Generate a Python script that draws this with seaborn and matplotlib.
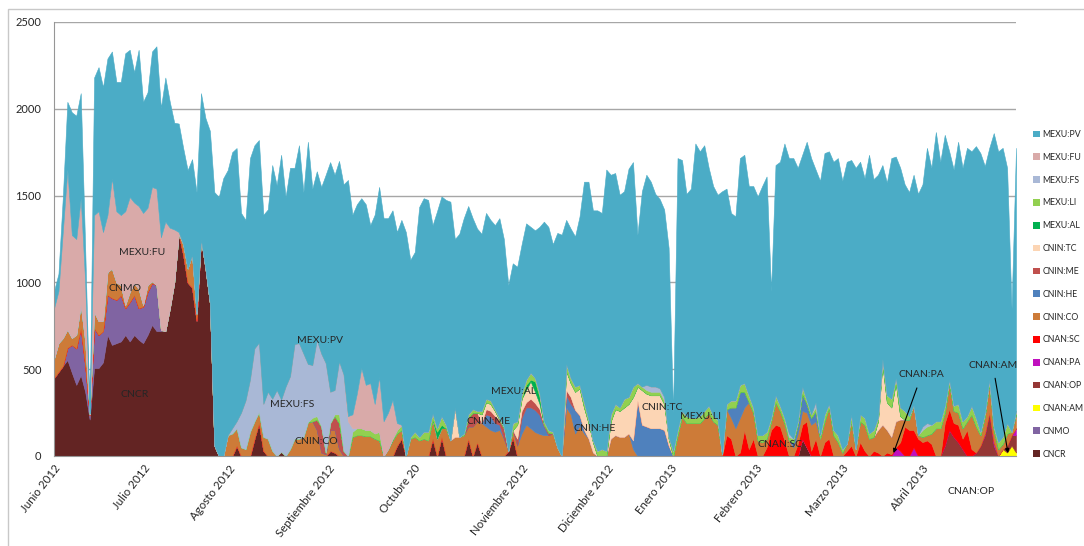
import matplotlib
matplotlib.use("Agg")
import matplotlib.pyplot as plt
import seaborn as sns
import numpy as np
from matplotlib.patches import Patch, Rectangle

# daily values (Junio 2012 -> mayo 2013), stacked bottom -> top
cncr = [450, 485, 520, 553, 480, 410, 466, 370, 210, 507, 507, 540, 697, 640, 650, 660, 697, 660, 697, 670,
        650, 697, 755, 720, 720, 720, 850, 1000, 1280, 1160, 1000, 970, 780, 1250, 1080, 880, 60, 0, 0, 0,
        0, 60, 0, 0, 0, 100, 190, 30, 0, 0, 0, 25, 0, 0, 0, 0, 0, 0, 0, 0,
        0, 0, 30, 20, 0, 0, 0, 0, 0, 0, 0, 0, 0, 0, 0, 0, 0, 60, 100, 0,
        0, 0, 0, 0, 0, 100, 0, 110, 0, 0, 0, 0, 0, 100, 0, 80, 0, 0, 0, 0,
        0, 0, 30, 110, 0, 0, 0, 0, 0, 0, 0, 0, 0, 0, 0, 0, 0, 0, 0, 0,
        0, 0, 0, 0, 0, 0, 0, 0, 0, 0, 0, 0, 0, 0, 0, 0, 0, 0, 0, 0,
        0, 0, 0, 0, 0, 0, 0, 0, 0, 0, 0, 0, 0, 0, 0, 0, 0, 0, 0, 0,
        0, 0, 0, 0, 0, 0, 0, 0, 100, 50, 0, 0, 0, 0, 0, 0, 0, 0, 0, 0,
        0, 0, 0, 0, 0, 0, 0, 0, 0, 0, 0, 0, 0, 0, 0, 0, 0, 0, 0, 0,
        0, 0, 0, 0, 0, 0, 0, 0, 0, 0, 0, 0, 0, 0, 0, 0, 0]
cnmo = [0, 0, 0, 70, 160, 210, 270, 150, 25, 230, 190, 180, 230, 270, 250, 267, 155, 227, 230, 182,
        210, 248, 242, 265, 6, 0, 0, 0, 0, 0, 0, 0, 0, 0, 0, 0, 0, 0, 0, 0,
        0, 0, 0, 0, 0, 0, 0, 0, 0, 0, 0, 0, 0, 0, 0, 0, 0, 0, 0, 0,
        0, 0, 0, 0, 0, 0, 0, 0, 0, 0, 0, 0, 0, 0, 0, 0, 0, 0, 0, 0,
        0, 0, 0, 0, 0, 0, 0, 0, 0, 0, 0, 0, 0, 0, 0, 0, 0, 0, 0, 0,
        0, 0, 0, 0, 0, 0, 0, 0, 0, 0, 0, 0, 0, 0, 0, 0, 0, 0, 0, 0,
        0, 0, 0, 0, 0, 0, 0, 0, 0, 0, 0, 0, 0, 0, 0, 0, 0, 0, 0, 0,
        0, 0, 0, 0, 0, 0, 0, 0, 0, 0, 0, 0, 0, 0, 0, 0, 0, 0, 0, 0,
        0, 0, 0, 0, 0, 0, 0, 0, 0, 0, 0, 0, 0, 0, 0, 0, 0, 0, 0, 0,
        0, 0, 0, 0, 0, 0, 0, 0, 0, 0, 0, 0, 0, 0, 0, 0, 0, 0, 0, 0,
        0, 0, 0, 0, 0, 0, 0, 0, 0, 0, 0, 0, 0, 0, 0, 0, 0]
cnan_am = [0, 0, 0, 0, 0, 0, 0, 0, 0, 0, 0, 0, 0, 0, 0, 0, 0, 0, 0, 0,
           0, 0, 0, 0, 0, 0, 0, 0, 0, 0, 0, 0, 0, 0, 0, 0, 0, 0, 0, 0,
           0, 0, 0, 0, 0, 0, 0, 0, 0, 0, 0, 0, 0, 0, 0, 0, 0, 0, 0, 0,
           0, 0, 0, 0, 0, 0, 0, 0, 0, 0, 0, 0, 0, 0, 0, 0, 0, 0, 0, 0,
           0, 0, 0, 0, 0, 0, 0, 0, 0, 0, 0, 0, 0, 0, 0, 0, 0, 0, 0, 0,
           0, 0, 0, 0, 0, 0, 0, 0, 0, 0, 0, 0, 0, 0, 0, 0, 0, 0, 0, 0,
           0, 0, 0, 0, 0, 0, 0, 0, 0, 0, 0, 0, 0, 0, 0, 0, 0, 0, 0, 0,
           0, 0, 0, 0, 0, 0, 0, 0, 0, 0, 0, 0, 0, 0, 0, 0, 0, 0, 0, 0,
           0, 0, 0, 0, 0, 0, 0, 0, 0, 0, 0, 0, 0, 0, 0, 0, 0, 0, 0, 0,
           0, 0, 0, 0, 0, 0, 0, 0, 0, 0, 0, 0, 0, 0, 0, 0, 0, 0, 0, 0,
           0, 0, 0, 0, 0, 0, 0, 0, 0, 0, 0, 0, 0, 40, 20, 60, 20]
cnan_op = [0, 0, 0, 0, 0, 0, 0, 0, 0, 0, 0, 0, 0, 0, 0, 0, 0, 0, 0, 0,
           0, 0, 0, 0, 0, 0, 0, 0, 0, 0, 0, 0, 0, 0, 0, 0, 0, 0, 0, 0,
           0, 0, 0, 0, 0, 0, 0, 0, 0, 0, 0, 0, 0, 0, 0, 0, 0, 0, 0, 0,
           0, 0, 0, 0, 0, 0, 0, 0, 0, 0, 0, 0, 0, 0, 0, 0, 0, 0, 0, 0,
           0, 0, 0, 0, 0, 0, 0, 0, 0, 0, 0, 0, 0, 0, 0, 0, 0, 0, 0, 0,
           0, 0, 0, 0, 0, 0, 0, 0, 0, 0, 0, 0, 0, 0, 0, 0, 0, 0, 0, 0,
           0, 0, 0, 0, 0, 0, 0, 0, 0, 0, 0, 0, 0, 0, 0, 0, 0, 0, 0, 0,
           0, 0, 0, 0, 0, 0, 0, 0, 0, 0, 0, 0, 0, 0, 0, 0, 0, 0, 0, 0,
           0, 0, 0, 0, 0, 0, 0, 0, 0, 0, 0, 0, 0, 0, 0, 0, 0, 0, 0, 0,
           0, 0, 0, 0, 0, 0, 0, 0, 0, 0, 0, 0, 0, 0, 0, 0, 0, 0, 0, 0,
           60, 150, 110, 80, 40, 0, 0, 20, 60, 120, 250, 60, 0, 0, 40, 60, 100]
cnan_pa = [0, 0, 0, 0, 0, 0, 0, 0, 0, 0, 0, 0, 0, 0, 0, 0, 0, 0, 0, 0,
           0, 0, 0, 0, 0, 0, 0, 0, 0, 0, 0, 0, 0, 0, 0, 0, 0, 0, 0, 0,
           0, 0, 0, 0, 0, 0, 0, 0, 0, 0, 0, 0, 0, 0, 0, 0, 0, 0, 0, 0,
           0, 0, 0, 0, 0, 0, 0, 0, 0, 0, 0, 0, 0, 0, 0, 0, 0, 0, 0, 0,
           0, 0, 0, 0, 0, 0, 0, 0, 0, 0, 0, 0, 0, 0, 0, 0, 0, 0, 0, 0,
           0, 0, 0, 0, 0, 0, 0, 0, 0, 0, 0, 0, 0, 0, 0, 0, 0, 0, 0, 0,
           0, 0, 0, 0, 0, 0, 0, 0, 0, 0, 0, 0, 0, 0, 0, 0, 0, 0, 0, 0,
           0, 0, 0, 0, 0, 0, 0, 0, 0, 0, 0, 0, 0, 0, 0, 0, 0, 0, 0, 0,
           0, 0, 0, 0, 0, 0, 0, 0, 0, 0, 0, 0, 0, 0, 0, 0, 0, 0, 0, 0,
           0, 0, 0, 0, 0, 0, 0, 0, 0, 50, 30, 0, 0, 50, 0, 0, 0, 0, 0, 0,
           0, 0, 0, 0, 0, 0, 0, 0, 0, 10, 0, 20, 0, 0, 0, 0, 40]
cnan_sc = [0, 0, 0, 0, 0, 0, 0, 0, 0, 0, 0, 0, 0, 0, 0, 0, 0, 0, 0, 0,
           0, 0, 0, 0, 0, 0, 0, 0, 0, 0, 0, 0, 0, 0, 0, 0, 0, 0, 0, 0,
           0, 0, 0, 0, 0, 0, 0, 0, 0, 0, 0, 0, 0, 0, 0, 0, 0, 0, 0, 0,
           0, 0, 0, 0, 0, 0, 0, 0, 0, 0, 0, 0, 0, 0, 0, 0, 0, 0, 0, 0,
           0, 0, 0, 0, 0, 0, 0, 0, 0, 0, 0, 0, 0, 0, 0, 0, 0, 0, 0, 0,
           0, 0, 0, 0, 0, 0, 0, 0, 0, 0, 0, 0, 0, 0, 0, 0, 0, 0, 0, 0,
           0, 0, 0, 0, 0, 0, 0, 0, 0, 0, 0, 0, 0, 0, 0, 0, 0, 0, 0, 0,
           0, 0, 0, 0, 0, 0, 0, 0, 0, 0, 0, 120, 100, 0, 20, 150, 40, 100, 0, 0,
           50, 150, 180, 170, 90, 0, 0, 70, 80, 150, 30, 100, 0, 80, 100, 0, 0, 0, 30, 60,
           0, 80, 30, 0, 30, 20, 0, 20, 10, 0, 50, 170, 150, 100, 100, 80, 90, 70, 0, 0,
           130, 120, 80, 100, 60, 150, 40, 0, 0, 0, 0, 0, 0, 0, 0, 0, 0]
cnin_co = [110, 165, 160, 106, 40, 78, 133, 140, 5, 93, 80, 60, 133, 170, 100, 58, 18, 58, 70, 110,
           10, 40, 10, 0, 0, 0, 0, 0, 0, 60, 80, 190, 40, 0, 0, 0, 0, 0, 0, 120,
           130, 100, 50, 40, 140, 100, 63, 80, 100, 30, 0, 0, 0, 40, 100, 100, 110, 196, 200, 150,
           20, 10, 120, 130, 40, 0, 0, 110, 120, 120, 115, 115, 100, 90, 0, 40, 90, 70, 50, 0,
           100, 110, 90, 100, 90, 110, 100, 50, 160, 90, 110, 110, 120, 70, 170, 120, 190, 170, 150, 140,
           150, 100, 0, 40, 60, 130, 180, 160, 138, 127, 120, 120, 130, 50, 0, 280, 240, 130, 175, 130,
           100, 20, 0, 0, 0, 100, 120, 110, 110, 130, 40, 0, 0, 0, 0, 0, 0, 0, 0, 0,
           120, 230, 190, 190, 190, 190, 220, 250, 200, 180, 10, 150, 120, 160, 200, 130, 270, 150, 90, 80,
           50, 50, 130, 90, 100, 90, 50, 60, 80, 50, 150, 100, 100, 120, 180, 120, 80, 20, 40, 140,
           40, 120, 150, 100, 80, 130, 180, 130, 100, 150, 130, 40, 60, 144, 20, 30, 30, 60, 160, 160,
           60, 150, 70, 70, 60, 50, 200, 150, 60, 100, 170, 70, 40, 30, 70, 20, 80]
cnin_he = [0, 0, 0, 0, 0, 0, 0, 0, 0, 0, 0, 0, 0, 0, 0, 0, 0, 0, 0, 0,
           0, 0, 0, 0, 0, 0, 0, 0, 0, 0, 0, 0, 0, 0, 0, 0, 0, 0, 0, 0,
           0, 0, 0, 0, 0, 0, 0, 0, 0, 0, 0, 0, 0, 0, 0, 0, 0, 0, 0, 0,
           0, 0, 0, 0, 0, 0, 0, 0, 0, 0, 0, 0, 0, 0, 0, 0, 0, 0, 0, 0,
           0, 0, 0, 0, 0, 0, 0, 0, 0, 0, 0, 0, 0, 0, 0, 0, 0, 70, 80, 50,
           30, 0, 0, 0, 0, 90, 100, 120, 127, 110, 50, 0, 0, 0, 0, 70, 60, 135, 60, 20,
           0, 0, 0, 0, 0, 0, 0, 0, 0, 0, 50, 320, 180, 170, 160, 160, 160, 150, 60, 0,
           0, 0, 0, 0, 0, 0, 0, 0, 0, 0, 0, 0, 60, 120, 150, 90, 0, 0, 0, 0,
           0, 0, 0, 0, 0, 0, 30, 50, 100, 50, 40, 60, 0, 0, 0, 0, 0, 0, 0, 0,
           0, 0, 0, 0, 0, 0, 0, 0, 0, 0, 0, 0, 0, 0, 0, 0, 0, 0, 0, 0,
           0, 0, 0, 0, 0, 0, 0, 0, 0, 0, 0, 0, 0, 0, 0, 0, 0]
cnin_me = [0, 0, 0, 0, 0, 0, 0, 0, 0, 0, 0, 0, 0, 0, 0, 0, 0, 0, 0, 0,
           0, 0, 0, 0, 0, 0, 0, 0, 0, 0, 0, 0, 0, 0, 0, 0, 0, 0, 0, 0,
           0, 0, 0, 0, 0, 0, 0, 0, 0, 0, 0, 0, 0, 0, 0, 0, 0, 0, 0, 60,
           150, 10, 40, 80, 150, 30, 0, 0, 0, 0, 0, 0, 0, 0, 0, 0, 0, 0, 0, 0,
           0, 0, 0, 0, 0, 0, 0, 0, 0, 0, 0, 0, 0, 50, 80, 50, 0, 30, 30, 40,
           30, 60, 0, 0, 40, 40, 30, 50, 40, 34, 10, 15, 0, 0, 0, 30, 40, 0, 0, 0,
           0, 0, 0, 0, 0, 0, 0, 0, 0, 0, 0, 0, 0, 0, 0, 0, 0, 0, 0, 0,
           0, 0, 0, 0, 0, 0, 0, 0, 0, 0, 0, 0, 0, 0, 0, 0, 0, 0, 0, 0,
           0, 0, 0, 0, 0, 0, 0, 0, 0, 0, 0, 0, 0, 0, 0, 0, 0, 0, 0, 0,
           0, 0, 0, 0, 0, 0, 0, 0, 0, 0, 0, 0, 0, 0, 0, 0, 0, 0, 0, 0,
           0, 0, 0, 0, 0, 0, 0, 0, 0, 0, 0, 0, 0, 0, 0, 0, 0]
cnin_tc = [0, 0, 0, 0, 0, 0, 0, 0, 0, 0, 0, 0, 0, 0, 0, 0, 0, 0, 0, 0,
           0, 0, 0, 0, 0, 0, 0, 0, 0, 0, 0, 0, 0, 0, 0, 0, 0, 0, 0, 0,
           0, 0, 0, 0, 0, 0, 0, 0, 0, 0, 0, 0, 0, 0, 0, 0, 0, 0, 0, 0,
           0, 0, 0, 0, 0, 0, 0, 0, 0, 0, 0, 0, 0, 0, 0, 0, 0, 0, 0, 0,
           0, 0, 0, 0, 0, 0, 0, 0, 0, 0, 170, 0, 0, 0, 0, 0, 50, 40, 40, 30,
           0, 0, 0, 0, 80, 70, 70, 100, 65, 30, 0, 0, 0, 0, 0, 110, 80, 105, 155, 130,
           90, 60, 0, 0, 0, 100, 150, 150, 170, 170, 250, 80, 200, 190, 190, 190, 190, 150, 40, 0,
           0, 0, 0, 0, 0, 0, 0, 0, 0, 0, 0, 0, 0, 0, 0, 0, 0, 0, 0, 0,
           0, 0, 0, 0, 0, 0, 0, 0, 0, 0, 0, 0, 0, 0, 0, 0, 0, 0, 0, 0,
           0, 0, 0, 0, 0, 50, 350, 160, 170, 220, 20, 0, 0, 0, 0, 0, 0, 0, 0, 0,
           0, 0, 0, 0, 0, 0, 0, 0, 0, 0, 0, 0, 0, 0, 0, 0, 0]
mexu_al = [0, 0, 0, 0, 0, 0, 0, 0, 0, 0, 0, 0, 0, 0, 0, 0, 0, 0, 0, 0,
           0, 0, 0, 0, 0, 0, 0, 0, 0, 0, 0, 0, 0, 0, 0, 0, 0, 0, 0, 0,
           0, 0, 0, 0, 0, 0, 0, 0, 0, 0, 0, 0, 0, 0, 0, 0, 0, 0, 0, 0,
           0, 0, 0, 0, 0, 0, 0, 0, 0, 0, 0, 0, 0, 0, 0, 0, 0, 0, 0, 0,
           0, 0, 0, 0, 0, 0, 40, 20, 0, 0, 0, 0, 0, 0, 0, 0, 0, 0, 0, 0,
           0, 0, 0, 0, 0, 0, 30, 10, 60, 40, 0, 0, 0, 0, 0, 0, 0, 0, 0, 0,
           0, 0, 0, 0, 0, 0, 0, 0, 0, 0, 0, 0, 0, 0, 0, 0, 0, 0, 0, 0,
           0, 0, 0, 0, 0, 0, 0, 0, 0, 0, 0, 0, 0, 0, 0, 0, 0, 0, 0, 0,
           0, 0, 0, 0, 0, 0, 0, 0, 0, 0, 0, 0, 0, 0, 0, 0, 0, 0, 0, 0,
           0, 0, 0, 0, 0, 0, 0, 0, 0, 0, 0, 0, 0, 0, 0, 0, 0, 0, 0, 0,
           0, 0, 0, 0, 0, 0, 0, 0, 0, 0, 0, 0, 0, 0, 0, 0, 0]
mexu_li = [0, 0, 0, 0, 0, 0, 0, 0, 0, 0, 0, 0, 0, 0, 0, 0, 0, 0, 0, 0,
           0, 0, 0, 0, 0, 0, 0, 0, 0, 0, 0, 0, 0, 0, 0, 0, 0, 0, 0, 0,
           0, 0, 0, 0, 0, 0, 0, 0, 0, 0, 0, 0, 0, 0, 0, 0, 0, 0, 20, 20,
           0, 0, 0, 10, 50, 0, 0, 30, 40, 40, 35, 35, 30, 50, 0, 0, 10, 20, 30, 0,
           10, 30, 20, 40, 50, 35, 20, 50, 20, 0, 0, 0, 10, 20, 20, 10, 20, 20, 20, 10,
           10, 10, 0, 40, 20, 30, 30, 40, 20, 20, 20, 15, 10, 0, 0, 40, 30, 30, 20, 30,
           20, 10, 30, 40, 30, 40, 30, 20, 50, 40, 60, 20, 20, 20, 20, 20, 20, 20, 10, 30,
           30, 30, 40, 30, 30, 40, 40, 40, 30, 30, 0, 30, 40, 40, 40, 50, 40, 30, 30, 40,
           40, 20, 40, 30, 30, 20, 20, 20, 40, 20, 20, 20, 20, 40, 20, 30, 40, 20, 0, 40,
           0, 40, 40, 30, 40, 20, 30, 40, 50, 30, 50, 50, 20, 0, 0, 40, 50, 50, 40, 40,
           40, 20, 30, 50, 40, 30, 50, 50, 20, 20, 20, 20, 40, 40, 60, 0, 20]
mexu_fs = [0, 0, 0, 0, 0, 0, 0, 0, 0, 0, 0, 0, 0, 0, 0, 0, 0, 0, 0, 0,
           0, 0, 0, 0, 0, 0, 0, 0, 0, 0, 0, 0, 0, 0, 0, 0, 0, 0, 0, 0,
           30, 40, 200, 280, 300, 420, 400, 190, 270, 300, 380, 300, 400, 420, 545, 550, 480, 334, 304, 438,
           420, 515, 180, 140, 305, 440, 200, 20, 0, 0, 0, 0, 0, 0, 0, 0, 0, 0, 0, 0,
           0, 0, 0, 0, 0, 0, 0, 0, 0, 0, 0, 0, 0, 0, 0, 0, 0, 0, 0, 0,
           0, 0, 0, 0, 0, 0, 0, 0, 0, 0, 0, 0, 0, 0, 0, 0, 0, 0, 0, 0,
           0, 0, 0, 0, 0, 0, 0, 0, 0, 0, 0, 0, 0, 30, 30, 30, 20, 20, 0, 0,
           0, 0, 0, 0, 0, 0, 0, 0, 0, 0, 0, 0, 0, 0, 0, 0, 0, 0, 0, 0,
           0, 0, 0, 0, 0, 20, 0, 0, 0, 0, 0, 30, 0, 0, 0, 0, 0, 0, 0, 0,
           0, 0, 0, 0, 0, 0, 0, 0, 0, 0, 0, 0, 0, 0, 0, 20, 20, 0, 0, 0,
           0, 0, 0, 0, 0, 0, 0, 0, 0, 0, 0, 0, 0, 0, 0, 0, 0]
mexu_fu = [290, 300, 620, 921, 593, 552, 617, 340, 5, 558, 633, 510, 328, 520, 410, 403, 540, 547, 463, 478,
           530, 445, 543, 555, 534, 630, 465, 305, 10, 0, 0, 0, 0, 0, 0, 0, 0, 0, 0, 0,
           0, 0, 0, 0, 0, 0, 0, 0, 0, 0, 0, 0, 0, 0, 0, 0, 0, 0, 0, 0,
           0, 0, 0, 0, 0, 0, 30, 80, 200, 347, 260, 270, 170, 315, 200, 210, 223, 40, 0, 0,
           0, 0, 0, 0, 0, 0, 0, 0, 0, 0, 0, 0, 0, 0, 0, 0, 0, 0, 0, 0,
           0, 0, 0, 0, 0, 0, 0, 0, 0, 0, 0, 0, 0, 0, 0, 0, 0, 0, 0, 0,
           0, 0, 0, 0, 0, 0, 0, 0, 0, 0, 0, 0, 0, 0, 0, 0, 0, 0, 0, 0,
           0, 0, 0, 0, 0, 0, 0, 0, 0, 0, 0, 0, 0, 0, 0, 0, 0, 0, 0, 0,
           0, 0, 0, 0, 0, 0, 0, 0, 0, 0, 0, 0, 0, 0, 0, 0, 0, 0, 0, 0,
           0, 0, 0, 0, 0, 0, 0, 0, 0, 0, 0, 0, 0, 0, 0, 0, 0, 0, 0, 0,
           0, 0, 0, 0, 0, 0, 0, 0, 0, 0, 0, 0, 0, 0, 0, 0, 0]
mexu_pv = [100, 100, 200, 390, 707, 710, 604, 200, 0, 792, 830, 835, 902, 730, 745, 767, 910, 848, 750, 900,
           640, 665, 780, 820, 745, 830, 725, 615, 625, 555, 567, 550, 700, 840, 867, 993, 1460, 1492, 1600, 1527,
           1590, 1574, 1150, 1040, 1276, 1170, 1167, 1090, 1050, 1346, 1180, 1410, 1092, 1200, 1015, 1140, 930, 1280, 1016, 972,
           960, 1085, 1323, 1240, 1155, 1095, 1360, 1150, 1090, 978, 1040, 910, 1090, 1095, 1170, 1120, 1092, 1100, 1180, 1290,
           1020, 1035, 1325, 1345, 1335, 1085, 1250, 1265, 1295, 1375, 970, 1170, 1240, 1200, 1100, 1050, 1020, 1070, 1040, 1060,
           1150, 1080, 955, 920, 890, 860, 900, 840, 850, 959, 1150, 1170, 1080, 1235, 1275, 830, 860, 865, 970, 1270,
           1370, 1325, 1385, 1360, 1620, 1380, 1330, 1225, 1195, 1315, 1293, 855, 1125, 1210, 1180, 1110, 1090, 1080, 1090, 220,
           1566, 1445, 1280, 1320, 1580, 1525, 1530, 1370, 1325, 1295, 1515, 1240, 1080, 1060, 1306, 1315, 1205, 1275, 1375, 1435,
           1470, 730, 1326, 1405, 1580, 1586, 1616, 1460, 1335, 1490, 1476, 1340, 1465, 1505, 1455, 1545, 1596, 1545, 1625, 1465,
           1620, 1455, 1380, 1605, 1445, 1400, 1116, 1225, 1386, 1275, 1380, 1305, 1290, 1326, 1390, 1395, 1585, 1480, 1666, 1495,
           1560, 1315, 1360, 1510, 1460, 1545, 1465, 1565, 1605, 1420, 1335, 1690, 1675, 1665, 1470, 710, 1515]

series_names = ["CNCR", "CNMO", "CNAN:AM", "CNAN:OP", "CNAN:PA", "CNAN:SC", "CNIN:CO", "CNIN:HE",
                "CNIN:ME", "CNIN:TC", "MEXU:AL", "MEXU:LI", "MEXU:FS", "MEXU:FU", "MEXU:PV"]
series = [cncr, cnmo, cnan_am, cnan_op, cnan_pa, cnan_sc, cnin_co, cnin_he,
          cnin_me, cnin_tc, mexu_al, mexu_li, mexu_fs, mexu_fu, mexu_pv]
colors = ["#632423", "#8064A2", "#FFFF00", "#953735", "#C010BE", "#FF0000", "#CD7B38", "#4F81BD",
          "#C0504D", "#FCD5B4", "#00B050", "#92D050", "#A9B8D6", "#D9AAA9", "#4BACC6"]

month_labels = ["Junio 2012", "Julio 2012", "Agosto 2012", "Septiembre 2012", "Octubre 20",
                "Noviembre 2012", "Diciembre 2012", "Enero 2013", "Febrero 2013", "Marzo 2013", "Abril 2013"]
month_pos = [0, 20.2, 39.3, 61.6, 80.7, 105, 124.3, 138.4, 157.5, 176.9, 194.8]

sns.set_style("white")
plt.rcParams["font.family"] = ["Lato", "DejaVu Sans"]

days = np.arange(len(mexu_pv))

fig = plt.figure(figsize=(10.84, 5.46), dpi=100)
ax = fig.add_axes([54 / 1084, 1 - 456 / 546, 962 / 1084, 434 / 546])

polys = ax.stackplot(days, *series, colors=colors, linewidth=0.4)
for p, c in zip(polys, colors):
    p.set_edgecolor(c)

ax.set_xlim(0, len(days) - 1)
ax.set_ylim(0, 2500)
ax.set_yticks(range(0, 2501, 500))
ax.yaxis.grid(True, color="#A6A6A6", lw=1)
ax.set_axisbelow(True)
ax.set_xticks(month_pos)
ax.set_xticklabels(month_labels, rotation=52, ha="right", rotation_mode="anchor", fontsize=8.3)
ax.tick_params(axis="y", length=0, pad=9, labelsize=8)
ax.tick_params(axis="x", length=0, pad=5)
for s in ["top", "right"]:
    ax.spines[s].set_visible(False)
for s in ["left", "bottom"]:
    ax.spines[s].set_color("#969696")

# inline labels
lab = dict(fontsize=7.5, color="#262626", ha="center", va="center")
ax.text(19.8, 1175, "MEXU:FU", **lab)
ax.text(16.0, 962, "CNMO", **lab)
ax.text(18.0, 357, "CNCR", **lab)
ax.text(59.8, 668, "MEXU:PV", **lab)
ax.text(53.5, 294, "MEXU:FS", **lab)
ax.text(58.9, 86, "CNIN:CO", **lab)
ax.text(97.5, 196, "CNIN:ME", **lab)
ax.text(103.1, 374, "MEXU:AL", **lab)
ax.text(121.3, 161, "CNIN:HE", **lab)
ax.text(136.6, 282, "CNIN:TC", **lab)
ax.text(145.2, 230, "MEXU:LI", **lab)
ax.text(163.1, 69, "CNAN:SC", **lab)
ax.text(205.8, -202, "CNAN:OP", clip_on=False, **lab)
ax.annotate("CNAN:PA", xy=(188.5, 17), xytext=(194.8, 467),
            arrowprops=dict(arrowstyle="-|>", color="black", lw=0.8, mutation_scale=6,
                            shrinkA=4, shrinkB=0), **lab)
ax.annotate("CNAN:AM", xy=(214.2, 17), xytext=(210.8, 524),
            arrowprops=dict(arrowstyle="-|>", color="black", lw=0.8, mutation_scale=6,
                            shrinkA=4, shrinkB=0), annotation_clip=False, **lab)

handles = [Patch(facecolor=c, edgecolor="none") for c in colors][::-1]
fig.legend(handles, series_names[::-1], loc="upper left",
           bbox_to_anchor=(1033 / 1084, 1 - 130 / 546), frameon=False, fontsize=6.3,
           handlelength=0.8, handleheight=0.8, handletextpad=0.3, labelspacing=1.58,
           borderaxespad=0, borderpad=0)

fig.add_artist(Rectangle((8 / 1084, -0.05), 1.2, 1.05 - 9 / 546, transform=fig.transFigure,
                         fill=False, edgecolor="#C8C8C8", lw=1))

fig.savefig("out.png", dpi=100)
